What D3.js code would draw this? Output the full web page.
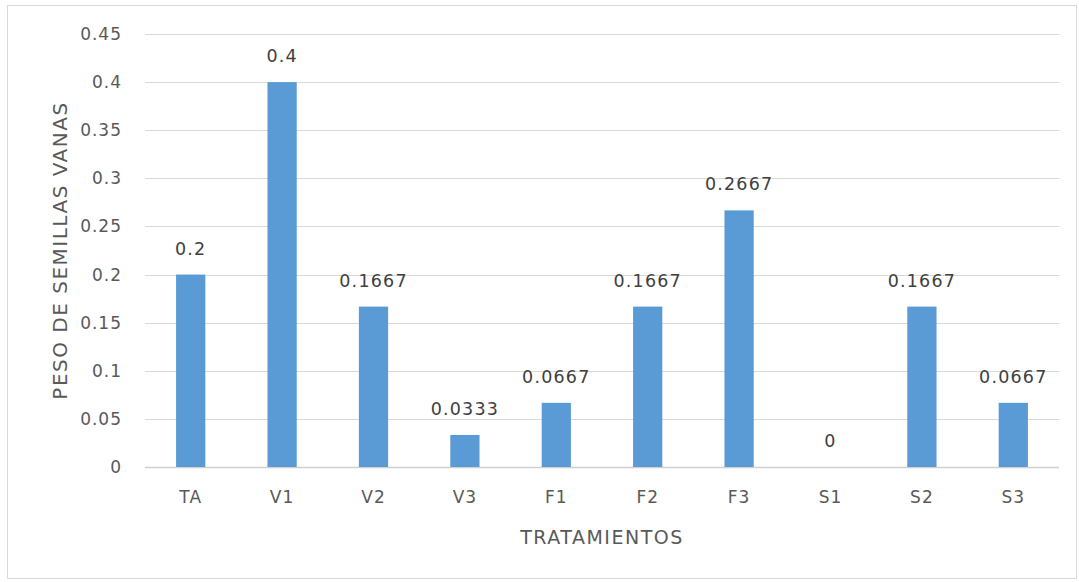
<!DOCTYPE html>
<html>
<head>
<meta charset="utf-8">
<script src="https://cdn.jsdelivr.net/npm/d3@7"></script>
<style>
  body { margin: 0; background: #fff; }
  svg text { font-family: "DejaVu Sans", "Liberation Sans", sans-serif; fill: #595959; }
</style>
</head>
<body>
<div id="chart"></div>
<script>
const categories = ['TA', 'V1', 'V2', 'V3', 'F1', 'F2', 'F3', 'S1', 'S2', 'S3'];
const values = [0.2, 0.4, 0.1667, 0.0333, 0.0667, 0.1667, 0.2667, 0, 0.1667, 0.0667];
const yTicks = [0, 0.05, 0.1, 0.15, 0.2, 0.25, 0.3, 0.35, 0.4, 0.45];

const width = 1079, height = 582;
const margin = { top: 34, right: 20, bottom: 115, left: 145 };

const svg = d3.select('#chart').append('svg')
  .attr('width', width)
  .attr('height', height);

// chart border
svg.append('rect')
  .attr('x', 7.5).attr('y', 5.5)
  .attr('width', width - 10).attr('height', height - 9)
  .attr('fill', 'none')
  .attr('stroke', '#d9d9d9');

const x = d3.scaleBand()
  .domain(categories)
  .range([margin.left, width - margin.right])
  .paddingInner(0.68)
  .paddingOuter(0.34);

const y = d3.scaleLinear()
  .domain([0, 0.45])
  .range([height - margin.bottom, margin.top]);

// gridlines
svg.append('g')
  .selectAll('line')
  .data(yTicks)
  .join('line')
  .attr('x1', margin.left)
  .attr('x2', width - margin.right)
  .attr('y1', d => Math.round(y(d)) + 0.5)
  .attr('y2', d => Math.round(y(d)) + 0.5)
  .attr('stroke', d => d === 0 ? '#d0d0d0' : '#d9d9d9')
  .attr('stroke-width', d => d === 0 ? 1.5 : 1);

// y tick labels
svg.append('g')
  .selectAll('text')
  .data(yTicks)
  .join('text')
  .attr('x', margin.left - 23)
  .attr('y', d => y(d))
  .attr('dy', '0.35em')
  .attr('text-anchor', 'end')
  .attr('font-size', '17px')
  .attr('letter-spacing', '1px')
  .text(d => d3.format('')(d));

// bars
svg.append('g')
  .selectAll('rect')
  .data(values)
  .join('rect')
  .attr('x', (d, i) => x(categories[i]))
  .attr('y', d => y(d))
  .attr('width', x.bandwidth())
  .attr('height', d => y(0) - y(d))
  .attr('fill', '#5b9bd5');

// value labels
svg.append('g')
  .selectAll('text')
  .data(values)
  .join('text')
  .attr('x', (d, i) => x(categories[i]) + x.bandwidth() / 2)
  .attr('y', d => y(d) - 20)
  .attr('text-anchor', 'middle')
  .attr('font-size', '17.5px')
  .attr('letter-spacing', '1.2px')
  .style('fill', '#404040')
  .text(d => String(d));

// category labels
svg.append('g')
  .selectAll('text')
  .data(categories)
  .join('text')
  .attr('x', d => x(d) + x.bandwidth() / 2)
  .attr('y', y(0) + 36)
  .attr('text-anchor', 'middle')
  .attr('font-size', '17px')
  .attr('letter-spacing', '1px')
  .text(d => d);

// axis titles
svg.append('text')
  .attr('x', (margin.left + width - margin.right) / 2)
  .attr('y', 544)
  .attr('text-anchor', 'middle')
  .attr('font-size', '19px')
  .attr('letter-spacing', '1.5px')
  .text('TRATAMIENTOS');

svg.append('text')
  .attr('transform', `translate(67,${(margin.top + height - margin.bottom) / 2}) rotate(-90)`)
  .attr('text-anchor', 'middle')
  .attr('font-size', '20px')
  .attr('letter-spacing', '1.5px')
  .text('PESO DE SEMILLAS VANAS');
</script>
</body>
</html>
